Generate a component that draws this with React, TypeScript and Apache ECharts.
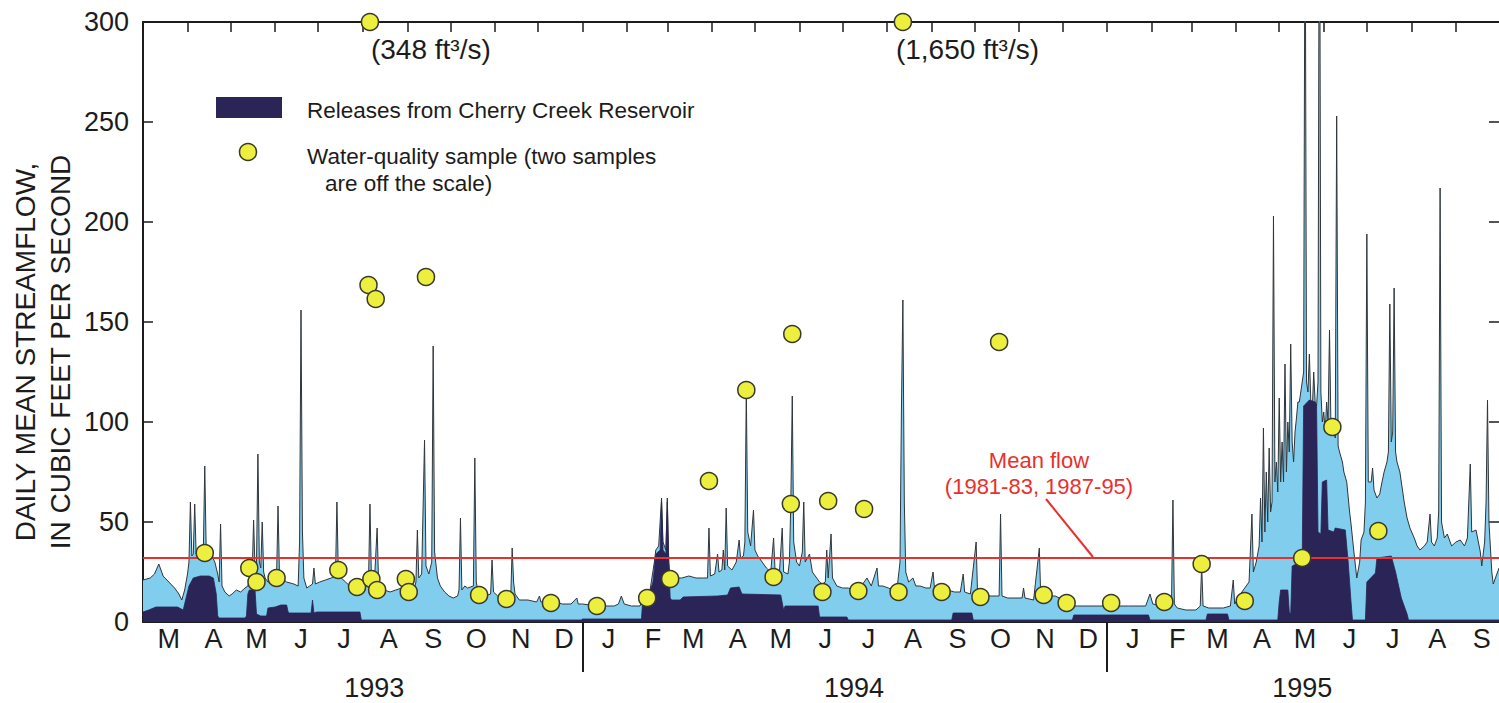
import React, { useEffect, useRef } from 'react';
import * as echarts from 'echarts';

// ---------- data ----------
const SERIES_START = '1993-03-01';
const SERIES_END = '1995-10-01';
const MEAN_FLOW = 32; // mean flow (1981-83, 1987-95), ft3/s

const MONTH_LETTERS = ['J', 'F', 'M', 'A', 'M', 'J', 'J', 'A', 'S', 'O', 'N', 'D'];
const YEAR_LABEL_DATES = ['1993-08-09', '1994-07-09', '1995-05-17'];
const Y_MIN = 0;
const Y_MAX = 300;
const Y_STEP = 50;

// Daily mean streamflow: [days since 1993-03-01, ft3/s]
const flow1993: [number, number][] = [
  [0, 21], [5, 22], [8, 24], [11, 29], [14, 23], [18, 20], [22, 17], [25, 14], [27, 11], [29, 16],
  [31, 24], [32, 30], [33, 60], [34, 33], [35, 34], [36, 59], [37, 34], [38, 36], [41, 35], [42, 36],
  [43, 78], [44, 36], [46, 34], [48, 33], [50, 30], [52, 24], [53, 20], [54, 49], [55, 18], [57, 15],
  [60, 13], [62, 14], [65, 16], [68, 15], [71, 17], [73, 18], [74, 20], [76, 24], [77, 51], [78, 26],
  [79, 28], [80, 84], [81, 30], [82, 27], [83, 50], [84, 25], [85, 22], [87, 20], [92, 21], [93, 23],
  [94, 58], [95, 24], [96, 22], [100, 20], [105, 19], [108, 18], [109, 40], [110, 156], [111, 45], [112, 22],
  [114, 17], [116, 18], [118, 19], [119, 27], [120, 19], [123, 20], [127, 21], [131, 22], [134, 23], [135, 60],
  [136, 24], [138, 22], [141, 20], [144, 18], [148, 17], [152, 17], [155, 18], [157, 20], [158, 59], [159, 22],
  [161, 19], [163, 47], [164, 20], [166, 17], [168, 16], [172, 15], [176, 16], [180, 17], [182, 19], [184, 18],
  [186, 16], [189, 17], [190, 20], [191, 46], [192, 22], [194, 24], [196, 91], [197, 28], [199, 24], [201, 30],
  [202, 138], [203, 35], [205, 22], [207, 18], [210, 15], [213, 13], [216, 12], [219, 13], [220, 16], [221, 52],
  [222, 16], [224, 18], [226, 17], [230, 18], [231, 82], [232, 20], [233, 16], [235, 14], [238, 13], [242, 14],
  [243, 31], [244, 15], [247, 13], [250, 12], [256, 12], [257, 37], [258, 20], [259, 14], [262, 11], [268, 11],
  [274, 10], [276, 13], [277, 10], [280, 10], [286, 10], [292, 9], [298, 9], [302, 12], [303, 9], [305, 9],
];
const flow1994: [number, number][] = [
  [306, 9], [311, 8.5], [316, 8], [322, 8], [328, 8], [331, 9], [333, 13], [335, 9], [340, 8], [346, 8],
  [348, 12], [350, 13], [353, 16], [356, 30], [357, 36], [359, 38], [361, 62], [362, 40], [364, 36], [365, 62],
  [366, 30], [367, 22], [370, 22], [375, 22], [380, 23], [385, 22], [390, 22], [393, 22], [394, 47], [395, 23],
  [398, 24], [400, 34], [401, 25], [403, 26], [404, 36], [405, 26], [406, 57], [407, 28], [410, 26], [413, 30],
  [415, 41], [416, 32], [418, 33], [419, 40], [420, 116], [421, 45], [423, 38], [425, 56], [426, 36], [428, 33],
  [431, 30], [434, 27], [437, 25], [439, 42], [440, 26], [443, 24], [445, 47], [446, 25], [449, 24], [450, 30],
  [451, 60], [452, 113], [453, 40], [455, 30], [457, 28], [459, 35], [460, 60], [461, 30], [464, 34], [466, 25],
  [469, 22], [471, 20], [473, 19], [475, 20], [476, 36], [477, 22], [479, 44], [480, 22], [483, 18], [487, 17],
  [491, 17], [495, 16], [500, 18], [504, 22], [507, 18], [511, 27], [512, 18], [515, 18], [519, 17], [522, 16],
  [525, 17], [527, 30], [528, 107], [529, 161], [530, 60], [531, 25], [533, 20], [536, 22], [538, 18], [541, 18],
  [545, 17], [548, 17], [550, 25], [551, 17], [555, 16], [560, 16], [565, 15], [569, 15], [571, 24], [572, 15],
  [576, 14], [580, 40], [581, 14], [586, 13], [591, 13], [596, 13], [597, 54], [598, 13], [602, 12], [607, 12],
  [612, 12], [613, 17], [614, 12], [620, 11], [624, 37], [625, 12], [626, 14], [630, 13], [635, 13], [638, 12],
  [643, 10], [648, 8], [655, 8], [662, 8], [670, 8],
];
const flow1995: [number, number][] = [
  [671, 8], [678, 8], [686, 8], [694, 8], [698, 8], [701, 14], [703, 9], [710, 8], [714, 8], [716, 9],
  [717, 61], [718, 9], [720, 7], [726, 6], [733, 6], [736, 8], [737, 28], [738, 8], [742, 7], [747, 7],
  [752, 7], [757, 8], [759, 21], [760, 9], [763, 13], [767, 17], [770, 20], [772, 54], [773, 25], [775, 30],
  [777, 38], [778, 62], [779, 40], [780, 97], [781, 45], [782, 75], [783, 50], [784, 87], [785, 55], [786, 60],
  [787, 203], [788, 70], [789, 80], [790, 65], [791, 112], [792, 70], [793, 90], [794, 70], [795, 129], [796, 75],
  [797, 100], [798, 85], [799, 139], [800, 90], [801, 80], [802, 95], [803, 102], [804, 110], [805, 110], [806, 115],
  [807, 120], [808, 125], [809, 380], [810, 120], [811, 115], [812, 134], [813, 110], [814, 105], [815, 125], [816, 110],
  [817, 108], [818, 120], [819, 420], [820, 115], [821, 100], [822, 105], [823, 95], [824, 110], [825, 100], [826, 146],
  [827, 98], [828, 95], [829, 100], [830, 92], [831, 253], [832, 88], [833, 85], [835, 80], [836, 75], [838, 70],
  [840, 55], [841, 49], [843, 35], [845, 22], [847, 30], [848, 41], [850, 45], [851, 60], [852, 194], [853, 70],
  [855, 70], [856, 77], [857, 66], [859, 62], [861, 64], [862, 68], [864, 75], [866, 80], [867, 85], [868, 159],
  [869, 90], [870, 95], [871, 167], [872, 85], [873, 80], [875, 75], [878, 60], [880, 52], [882, 47], [885, 42],
  [887, 38], [889, 36], [892, 38], [894, 40], [896, 54], [897, 40], [899, 38], [901, 42], [902, 55], [903, 217],
  [904, 50], [906, 42], [908, 44], [911, 38], [914, 40], [917, 41], [920, 38], [922, 42], [924, 79], [925, 45],
  [928, 46], [931, 35], [932, 28], [934, 40], [935, 60], [936, 111], [937, 50], [939, 25], [940, 19], [944, 27],
];

// Releases from Cherry Creek Reservoir: [days since 1993-03-01, ft3/s]
const releases1993: [number, number][] = [
  [0, 5], [4, 6], [9, 7.5], [24, 7.5], [28, 6], [30, 12], [32, 18], [35, 22], [40, 23], [46, 23],
  [49, 22], [51, 14], [52, 3], [53, 2], [71, 2], [72, 3], [73, 14], [74, 16], [78, 16], [79, 4],
  [82, 3], [86, 3], [87, 7], [92, 7.5], [96, 8.5], [100, 8.5], [101, 5], [102, 4.5], [117, 4.5], [118, 11],
  [119, 4.5], [121, 5], [151, 5], [152, 1], [200, 1], [250, 1], [305, 1],
];
const releases1994: [number, number][] = [
  [306, 1.5], [347, 1.5], [348, 12], [352, 13], [355, 20], [357, 34], [360, 36], [361, 60], [362, 36], [364, 34],
  [365, 60], [366, 30], [367, 12], [368, 11], [374, 11], [376, 12.5], [400, 13], [407, 13.5], [409, 17], [415, 17.5],
  [417, 14], [444, 13.5], [446, 6], [447, 8], [470, 8], [471, 2.5], [490, 2.5], [491, 1], [563, 1], [564, 4.5],
  [577, 4.5], [578, 1], [647, 1], [648, 3.5], [670, 3.5],
];
const releases1995: [number, number][] = [
  [671, 3.5], [700, 3.5], [701, 1], [740, 1], [741, 4], [755, 4], [756, 1], [790, 1], [791, 10], [792, 16],
  [797, 16], [798, 5], [799, 4], [800, 28], [806, 30], [807, 30], [808, 108], [812, 111], [816, 110], [817, 108],
  [818, 45], [820, 44], [821, 70], [824, 71], [825, 46], [829, 45], [830, 47], [837, 46], [839, 30], [841, 10],
  [842, 1], [851, 1], [852, 20], [858, 24.5], [859, 32], [869, 33], [872, 25], [876, 12], [880, 4], [881, 1],
  [944, 1],
];

// Water-quality samples: [date, streamflow ft3/s at sampling]
const samples: [string, number][] = [
  ['1993-04-13', 34.5], ['1993-05-14', 27], ['1993-05-19', 20], ['1993-06-02', 22], ['1993-07-15', 26],
  ['1993-07-28', 17.5], ['1993-08-05', 168.5], ['1993-08-06', 348], ['1993-08-07', 21.5], ['1993-08-10', 161.5],
  ['1993-08-11', 16], ['1993-08-31', 21.5], ['1993-09-02', 15], ['1993-09-14', 172.5], ['1993-10-21', 13.5],
  ['1993-11-09', 11.5], ['1993-12-10', 9.5], ['1994-01-11', 8], ['1994-02-15', 12], ['1994-03-03', 21.5],
  ['1994-03-30', 70.5], ['1994-04-25', 116], ['1994-05-14', 22.5], ['1994-05-26', 59], ['1994-05-27', 144],
  ['1994-06-17', 15], ['1994-06-21', 60.5], ['1994-07-12', 15.5], ['1994-07-16', 56.5], ['1994-08-09', 15],
  ['1994-08-12', 1650], ['1994-09-08', 15], ['1994-10-05', 12.5], ['1994-10-18', 140], ['1994-11-18', 13.5],
  ['1994-12-04', 9.5], ['1995-01-04', 9.5], ['1995-02-10', 10], ['1995-03-08', 29], ['1995-04-07', 10.5],
  ['1995-05-17', 32], ['1995-06-07', 97.5], ['1995-07-09', 45.5],
];

// ---------- helpers ----------
const DAY_MS = 86400000;
const utc = (s: string) => {
  const [y, m, d] = s.split('-').map(Number);
  return Date.UTC(y, m - 1, d);
};
const T0 = utc(SERIES_START);
const T1 = utc(SERIES_END);
const toPoints = (arr: [number, number][]) => arr.map(([d, v]) => [T0 + d * DAY_MS, v]);

const FONT = '"Liberation Sans", Arial, Helvetica, sans-serif';
const INK = '#1c1c1c';
const NAVY = '#2A2556';
const SKY = '#80CDEE';
const YELLOW = '#EDEF3F';
const RED = '#E8302C';

function monthBoundaries() {
  const starts: number[] = [];
  const mids: number[] = [];
  const d0 = new Date(T0);
  let y = d0.getUTCFullYear();
  let m = d0.getUTCMonth();
  for (;;) {
    const t = Date.UTC(y, m, 1);
    if (t > T1) break;
    starts.push(t);
    if (t < T1) mids.push(Date.UTC(y, m, 19));
    m += 1;
    if (m === 12) { m = 0; y += 1; }
  }
  return { starts, mids };
}

export default function App() {
  const ref = useRef<HTMLDivElement>(null);

  useEffect(() => {
    document.body.style.margin = '0';
    if (!ref.current) return;
    const chart = echarts.init(ref.current, undefined, { renderer: 'svg' });

    const { starts, mids } = monthBoundaries();
    const innerStarts = starts.filter((t) => t > T0 && t < T1);
    const jan1s = starts.filter((t) => new Date(t).getUTCMonth() === 0);
    const yearTicks = YEAR_LABEL_DATES.map(utc);

    const flow = [...toPoints(flow1993), ...toPoints(flow1994), ...toPoints(flow1995)];
    const releases = [...toPoints(releases1993), ...toPoints(releases1994), ...toPoints(releases1995)];
    const sampleData = samples.map(([d, v]) => {
      const off = v > Y_MAX;
      const item: any = { value: [utc(d), Math.min(v, Y_MAX)] };
      if (off) {
        item.label = {
          show: true,
          formatter: `(${v.toLocaleString('en-US')} ft³/s)`,
          position: 'bottom',
          distance: 4,
          align: 'left',
          offset: [v > 1000 ? -7 : 1, 0],
          fontSize: 28,
          fontFamily: FONT,
          color: INK,
        };
      }
      return item;
    });

    const labelStyle = { fontSize: 27, fontFamily: FONT, color: INK };
    const axisLine = { show: true, onZero: false, lineStyle: { color: INK, width: 2 } };
    const xBase = { type: 'value', min: T0, max: T1, splitLine: { show: false }, scale: true };

    const option: any = {
      animation: false,
      backgroundColor: '#ffffff',
      grid: { left: 143, right: 0, top: 22, bottom: 81, containLabel: false },
      xAxis: [
        {
          ...xBase,
          position: 'bottom',
          axisLine,
          axisTick: {
            show: true,
            customValues: jan1s,
            length: 50,
            inside: false,
            lineStyle: { color: INK, width: 2 },
          },
          axisLabel: {
            ...labelStyle,
            customValues: mids,
            margin: 3,
            formatter: (v: number) => MONTH_LETTERS[new Date(v).getUTCMonth()],
          },
        },
        {
          ...xBase,
          position: 'bottom',
          axisLine: { show: false },
          axisTick: { show: false },
          axisLabel: {
            ...labelStyle,
            customValues: yearTicks,
            margin: 52,
            formatter: (v: number) => String(new Date(v).getUTCFullYear()),
          },
        },
        {
          ...xBase,
          position: 'top',
          axisLine,
          axisTick: {
            show: true,
            customValues: innerStarts,
            inside: true,
            length: 10,
            lineStyle: { color: INK, width: 1.5 },
          },
          axisLabel: { show: false },
        },
      ],
      yAxis: [
        {
          type: 'value',
          min: Y_MIN,
          max: Y_MAX,
          interval: Y_STEP,
          position: 'left',
          axisLine,
          axisTick: { show: true, inside: true, length: 10, lineStyle: { color: INK, width: 1.5 } },
          axisLabel: { ...labelStyle, margin: 14 },
          splitLine: { show: false },
        },
        {
          type: 'value',
          min: Y_MIN,
          max: Y_MAX,
          interval: Y_STEP,
          position: 'right',
          axisLine: { show: false },
          axisTick: { show: true, inside: true, length: 10, lineStyle: { color: INK, width: 1.5 } },
          axisLabel: { show: false },
          splitLine: { show: false },
        },
      ],
      series: [
        {
          name: 'Daily mean streamflow',
          type: 'line',
          xAxisIndex: 0,
          yAxisIndex: 0,
          data: flow,
          symbol: 'none',
          showSymbol: false,
          clip: true,
          z: 2,
          lineStyle: { color: '#30363b', width: 1 },
          areaStyle: { color: SKY, opacity: 1 },
          markLine: {
            silent: true,
            symbol: 'none',
            label: { show: false },
            lineStyle: { color: RED, width: 2, type: 'solid' },
            data: [{ yAxis: MEAN_FLOW }],
          },
        },
        {
          name: 'Releases from Cherry Creek Reservoir',
          type: 'line',
          xAxisIndex: 0,
          yAxisIndex: 0,
          data: releases,
          symbol: 'none',
          showSymbol: false,
          z: 3,
          lineStyle: { color: NAVY, width: 0.8 },
          areaStyle: { color: NAVY, opacity: 1 },
        },
        {
          name: 'Water-quality sample',
          type: 'scatter',
          xAxisIndex: 0,
          yAxisIndex: 0,
          data: sampleData,
          symbol: 'circle',
          symbolSize: 17,
          clip: false,
          z: 5,
          itemStyle: { color: YELLOW, borderColor: '#3a3a2a', borderWidth: 1.5, opacity: 1 },
        },
      ],
      graphic: [
        {
          type: 'text',
          x: 43,
          y: 352,
          rotation: Math.PI / 2,
          style: {
            text: 'DAILY MEAN STREAMFLOW,\nIN CUBIC FEET PER SECOND',
            font: `28px ${FONT}`,
            fill: INK,
            align: 'center',
            verticalAlign: 'middle',
            lineHeight: 35,
          },
        },
        {
          type: 'rect',
          shape: { x: 216, y: 97, width: 66, height: 21 },
          style: { fill: NAVY },
        },
        {
          type: 'text',
          x: 307,
          y: 110,
          style: {
            text: 'Releases from Cherry Creek Reservoir',
            font: `22.5px ${FONT}`,
            fill: INK,
            verticalAlign: 'middle',
          },
        },
        {
          type: 'circle',
          shape: { cx: 248, cy: 152, r: 8.5 },
          style: { fill: YELLOW, stroke: '#3a3a2a', lineWidth: 1.5 },
        },
        {
          type: 'text',
          x: 307,
          y: 156,
          style: {
            text: 'Water-quality sample (two samples',
            font: `22.5px ${FONT}`,
            fill: INK,
            verticalAlign: 'middle',
          },
        },
        {
          type: 'text',
          x: 325,
          y: 183,
          style: {
            text: 'are off the scale)',
            font: `22.5px ${FONT}`,
            fill: INK,
            verticalAlign: 'middle',
          },
        },
        {
          type: 'text',
          x: 1039,
          y: 460,
          style: { text: 'Mean flow', font: `22px ${FONT}`, fill: RED, align: 'center', verticalAlign: 'middle' },
        },
        {
          type: 'text',
          x: 1039,
          y: 486,
          style: {
            text: '(1981-83, 1987-95)',
            font: `22px ${FONT}`,
            fill: RED,
            align: 'center',
            verticalAlign: 'middle',
          },
        },
        {
          type: 'line',
          shape: { x1: 1046, y1: 499, x2: 1093, y2: 557 },
          style: { stroke: RED, lineWidth: 2 },
        },
      ],
    };

    chart.setOption(option);
    return () => chart.dispose();
  }, []);

  return <div ref={ref} style={{ width: 1499, height: 703 }} />;
}
